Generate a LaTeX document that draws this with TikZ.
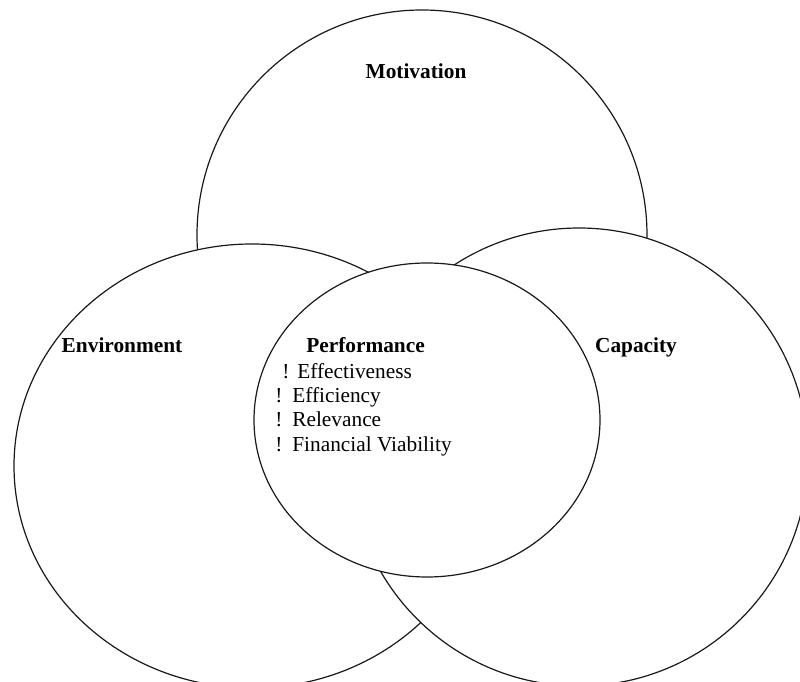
\documentclass[tikz,border=0pt]{standalone}
\usepackage{fontspec}
\setmainfont{Liberation Serif}
\usetikzlibrary{shapes.geometric}

\begin{document}
\begin{tikzpicture}[x=0.75pt,y=0.75pt,
    ring/.style={ellipse,draw=black!90,line width=0.9pt,fill=white,inner sep=0pt},
    lbl/.style={anchor=base,font=\fontsize{16}{19}\selectfont\bfseries},
    item/.style={anchor=base west,inner sep=0pt,font=\fontsize{16}{19}\selectfont}]
      \useasboundingbox (0,0) rectangle (800,682);

      \node[ring,minimum width=337.5pt,minimum height=337.5pt] (motivation) at (422,447) {};
      \node[ring,minimum width=357pt,minimum height=333pt] (environment) at (252,216) {};
      \node[ring,minimum width=343.5pt,minimum height=343.5pt] (capacity) at (579,225) {};
      \node[ring,minimum width=259.5pt,minimum height=235.5pt] (performance) at (427,262) {};

      \node[lbl] (motivationlbl) at (416,603) {Motivation};
      \node[lbl] (environmentlbl) at (122,329) {Environment};
      \node[lbl] (capacitylbl) at (636,329) {Capacity};
      \node[lbl] (performancelbl) at (365.5,329) {Performance};

      \node[item] (effect) at (282,303) {!\hspace{6pt}Effectiveness};
      \node[item] (effic) at (275,279) {!\hspace{7.5pt}Efficiency};
      \node[item] (relev) at (275,255) {!\hspace{7.5pt}Relevance};
      \node[item] (finan) at (275,230) {!\hspace{7.5pt}Financial Viability};
    \end{tikzpicture}
\end{document}
